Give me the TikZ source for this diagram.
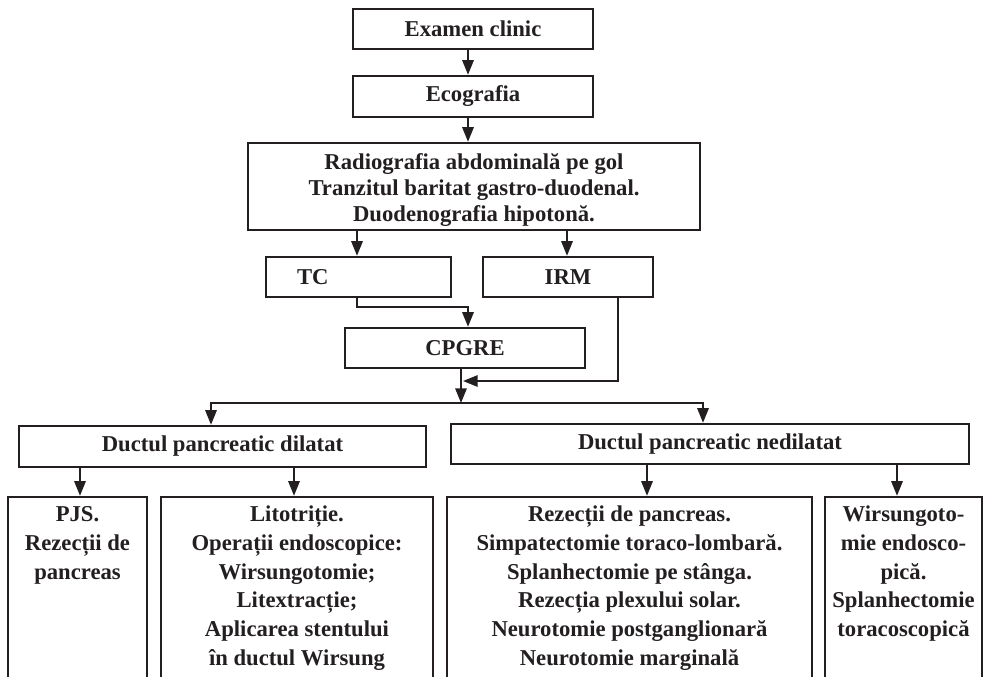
\documentclass[tikz,border=0pt]{standalone}
\usepackage{fontspec}
\setmainfont{Liberation Serif}
\usetikzlibrary{arrows.meta}
\definecolor{ink}{HTML}{231F20}
\begin{document}
\begin{tikzpicture}[x=0.75pt,y=-0.75pt,
  box/.style={draw=ink, line width=1.8pt, inner sep=0pt, text=ink,
    font=\bfseries\fontsize{17}{21}\selectfont, align=center},
  txt/.style={text=ink, inner sep=0pt, align=center,
    font=\bfseries\fontsize{17}{21.6}\selectfont},
  link/.style={draw=ink, line width=1.5pt},
  arr/.style={link, -{Triangle[length=11pt,width=8.5pt]}}]
\clip (0,0) rectangle (984,676);

% diagnostic chain
\node[box, minimum width=180pt, minimum height=30pt] (exam) at (473,29) {Examen clinic};
\node[box, minimum width=180pt, minimum height=30.75pt] (eco) at (473,96.5) {Ecografia};
\node[box, minimum width=339pt, minimum height=65.25pt] (radio) at (474,186.5) {};
\node[txt, font=\bfseries\fontsize{17}{19.5}\selectfont] (radiot) at (474,190)
  {Radiografia abdominală pe gol\\Tranzitul baritat gastro-duodenal.\\Duodenografia hipotonă.};
\node[box, minimum height=30pt, text width=92.25pt, inner xsep=23.25pt, align=left] (tc) at (358.5,277) {TC};
\node[box, minimum width=127.5pt, minimum height=30pt] (irm) at (568,277) {IRM};
\node[box, minimum width=180pt, minimum height=30pt] (cpgre) at (465,348) {CPGRE};

% duct state
\node[box, minimum width=305.25pt, minimum height=30.75pt] (dil) at (222.5,446.5) {Ductul pancreatic dilatat};
\node[box, minimum width=388.5pt, minimum height=30pt] (ned) at (710,444) {Ductul pancreatic nedilatat};

% treatment boxes (open at the bottom edge)
\node[box, minimum width=104.25pt, minimum height=152.25pt] (pjs) at (77.5,598.5) {};
\node[box, minimum width=204pt, minimum height=152.25pt] (lit) at (297,598.5) {};
\node[box, minimum width=273.75pt, minimum height=152.25pt] (rez) at (629.5,598.5) {};
\node[box, minimum width=117.75pt, minimum height=152.25pt] (wir) at (903.5,598.5) {};

\node[txt, anchor=north] (pjst) at (77.5,501) {\strut PJS.\\Rezecții de\\pancreas};
\node[txt, anchor=north] (litt) at (297,501) {\strut Litotriție.\\Operații endoscopice:\\Wirsungotomie;\\Litextracție;\\Aplicarea stentului\\în ductul Wirsung};
\node[txt, anchor=north] (rezt) at (629.5,501) {\strut Rezecții de pancreas.\\Simpatectomie toraco-lombară.\\Splanhectomie pe stânga.\\Rezecția plexului solar.\\Neurotomie postganglionară\\Neurotomie marginală};
\node[txt, anchor=north] (wirt) at (903.5,501) {\strut Wirsungoto-\\mie endosco-\\pică.\\Splanhectomie\\toracoscopică};

% connector columns
\coordinate (ax) at (468,0);
\coordinate (c1) at (357,0);
\coordinate (c2) at (567,0);
\coordinate (c3) at (618,0);
\coordinate (j) at (461,403);
\coordinate (m) at (463,381);
\coordinate (bl) at (211,0);
\coordinate (br) at (703,0);
\coordinate (d1) at (80,0);
\coordinate (d2) at (294,0);
\coordinate (n1) at (647,0);
\coordinate (n2) at (897,0);

\draw[arr] (exam.south -| ax) -- (eco.north -| ax);
\draw[arr] (eco.south -| ax) -- (radio.north -| ax);
\draw[arr] (radio.south -| c1) -- (tc.north -| c1);
\draw[arr] (radio.south -| c2) -- (irm.north -| c2);
\draw[arr] (tc.south -| c1) -- ++(0,9) -| (cpgre.north -| ax);
\draw[arr] (irm.south -| c3) |- (m);
\draw[arr] (cpgre.south -| j) -- (j);
\draw[arr] (j) -| (dil.north -| bl);
\draw[arr] (j) -| (ned.north -| br);
\draw[arr] (dil.south -| d1) -- (pjs.north -| d1);
\draw[arr] (dil.south -| d2) -- (lit.north -| d2);
\draw[arr] (ned.south -| n1) -- (rez.north -| n1);
\draw[arr] (ned.south -| n2) -- (wir.north -| n2);
\end{tikzpicture}
\end{document}
